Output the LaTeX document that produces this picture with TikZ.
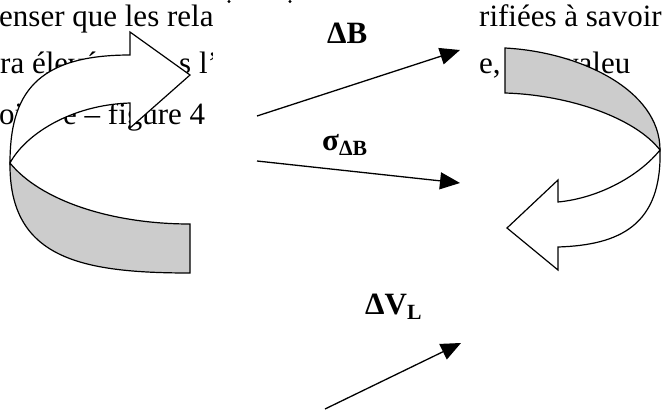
\documentclass[tikz,border=0pt]{standalone}
\usepackage{fontspec}
\setmainfont{Liberation Serif}
\usetikzlibrary{arrows.meta}

\begin{document}
\begin{tikzpicture}[
                x=1pt, y=-1pt,
                txt/.style={anchor=base west, inner sep=0pt, font=\fontsize{31}{37}\selectfont},
                lbl/.style={anchor=base west, inner sep=0pt, font=\fontsize{31}{37}\selectfont\bfseries},
                arrow/.style={line width=1.3pt, -{Triangle[length=20pt, width=17pt]}},
                ribbon/.style={draw, line width=1.2pt, line join=miter, fill=white},
                back/.style={ribbon, fill=gray!40}
            ]
            \useasboundingbox (0,0) rectangle (662,413);

            % page text behind the figure
            \node (l1a) [txt] at (-1,26) {enser que les rela};
            \node (l1b) [txt] at (479,26) {rifiées à savoir};
            \node (l2a) [txt] at (0,73) {ra élevé};
            \node (l2b) [txt] at (179,73) {s l’};
            \node (l2c) [txt] at (479,73) {e,};
            \node (l2d) [txt] at (563,73) {valeu};
            \node (l3a) [txt] at (-1,124) {oi};
            \node (l3b) [txt] at (63,124) {e – figure 4};

            % canvas
            \fill [white] (213,4) rectangle (478,140);
            \fill (229,1.5) circle (1.6pt);
            \fill (290,1.5) circle (1.6pt);

            % left ribbon arrow
            \draw [back] (10,163) .. controls (40,200) and (110,224) .. (190,224) -- (190,273)
                .. controls (80,273) and (9,258) .. (10,163) -- cycle;
            \draw [ribbon] (130,55) -- (130,32) -- (190,75) -- (130,128) -- (130,103)
                .. controls (70,105) and (25,135) .. (10,163)
                .. controls (10,95) and (35,55) .. (130,55) -- cycle;

            % right ribbon arrow
            \draw [back] (505,48) .. controls (580,52) and (660,90) .. (660,150)
                .. controls (635,118) and (570,95) .. (505,93) -- cycle;
            \draw [ribbon] (660,150) .. controls (640,175) and (600,198) .. (558,202)
                -- (558,180) -- (507,228) -- (558,270) -- (558,247)
                .. controls (620,245) and (662,225) .. (660,150) -- cycle;

            % labels and arrows
            \node (dB) [lbl] at (327,43) {ΔB};
            \node (sdB) [lbl] at (322,150) {σ\textsubscript{ΔB}};
            \node (dVL) [lbl] at (365,314) {ΔV\textsubscript{L}};

            \coordinate (dB-s) at (257,116);
            \coordinate (dB-e) at (460,50);
            \coordinate (sdB-s) at (257,161);
            \coordinate (sdB-e) at (460,183);
            \coordinate (dVL-s) at (325,409);
            \coordinate (dVL-e) at (461,343);

            \draw [arrow] (dB-s) -- (dB-e);
            \draw [arrow] (sdB-s) -- (sdB-e);
            \draw [arrow] (dVL-s) -- (dVL-e);
            \end{tikzpicture}
\end{document}
